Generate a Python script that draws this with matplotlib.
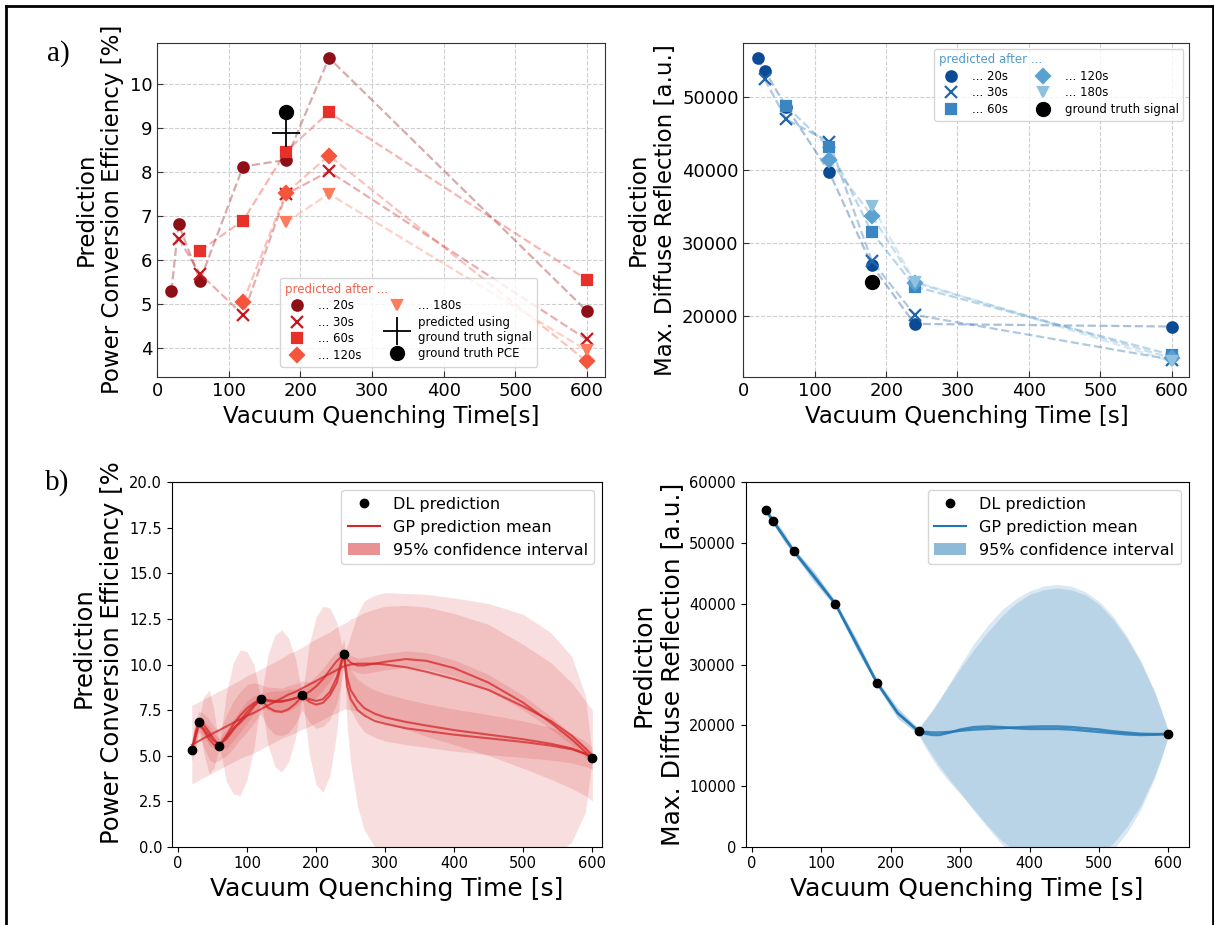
import matplotlib
matplotlib.use("Agg")
import matplotlib.pyplot as plt
from matplotlib.lines import Line2D
from matplotlib.patches import Patch
from matplotlib.transforms import Bbox

# ---------------- a) DL predictions after different measurement times ----------------
# power conversion efficiency [%]
pce_t20 = [20, 30, 60, 120, 180, 240, 600]
pce_20 = [5.30, 6.83, 5.54, 8.13, 8.28, 10.60, 4.85]
pce_t30 = [30, 60, 120, 180, 240, 600]
pce_30 = [6.49, 5.69, 4.76, 7.50, 8.02, 4.20]
pce_t60 = [60, 120, 180, 240, 600]
pce_60 = [6.22, 6.90, 8.47, 9.36, 5.56]
pce_t120 = [120, 180, 240, 600]
pce_120 = [5.05, 7.53, 8.38, 3.70]
pce_t180 = [180, 240, 600]
pce_180 = [6.86, 7.51, 3.95]
pce_gt_time = 180
pce_from_gt_signal = 8.89
pce_gt = 9.38

# max. diffuse reflection [a.u.]
dr_t20 = [20, 30, 60, 120, 180, 240, 600]
dr_20 = [55440, 53610, 48700, 39800, 26950, 18900, 18540]
dr_t30 = [30, 60, 120, 180, 240, 600]
dr_30 = [52470, 46980, 43920, 27550, 20140, 14000]
dr_t60 = [60, 120, 180, 240, 600]
dr_60 = [48810, 43140, 31480, 24030, 14650]
dr_t120 = [120, 180, 240, 600]
dr_120 = [41400, 33770, 24570, 14200]
dr_t180 = [180, 240, 600]
dr_180 = [35140, 24710, 13740]
dr_gt = 24620

series_labels = ["... 20s", "... 30s", "... 60s", "... 120s", "... 180s"]
series_markers = ["o", "x", "s", "D", "v"]
reds = ["#8e1016", "#c8161d", "#e8302a", "#f5553c", "#fb7d5d"]
blues = ["#0b4a95", "#1f66ad", "#3a86c2", "#5aa1d0", "#8fc1de"]

# ---------------- b) GP regressions on the 20s DL prediction ----------------
dl_t = [20, 30, 60, 120, 180, 240, 600]
dl_pce = [5.30, 6.85, 5.55, 8.10, 8.30, 10.60, 4.85]
dl_dr = [55400, 53700, 48700, 40000, 27000, 19000, 18600]

gp_x = [20, 25, 30, 37, 45, 52, 60, 70, 80, 90, 100, 110, 120, 130, 140, 150, 160, 170, 180,
        190, 200, 210, 220, 230, 240, 245, 250, 260, 270, 285, 300, 330, 360, 400, 450, 500,
        540, 570, 590, 600]
# short length scale: lens shaped intervals, huge interval after 240 s
pce_mean_s = [5.30, 6.25, 6.85, 6.70, 6.30, 5.90, 5.55, 6.00, 6.50, 6.80, 7.20, 7.70, 8.10, 8.05,
              8.00, 8.00, 8.05, 8.15, 8.30, 8.10, 8.00, 8.10, 8.50, 9.30, 10.60, 8.80, 8.10, 7.50,
              7.20, 6.90, 6.75, 6.50, 6.35, 6.15, 5.95, 5.75, 5.55, 5.35, 5.10, 4.85]
pce_ci_s = [0.0, 0.8, 0.0, 1.5, 2.3, 1.6, 0.0, 2.4, 3.6, 4.0, 3.5, 2.3, 0.0, 2.4, 3.6, 3.9, 3.4,
            2.2, 0.0, 3.0, 4.6, 5.1, 4.6, 3.0, 0.0, 2.2, 3.5, 5.3, 6.3, 6.9, 7.2, 7.4, 7.5, 7.5,
            7.4, 7.0, 6.2, 5.1, 3.2, 0.0]
# fit following the points closely, low branch after 240 s
pce_mean_d = [5.30, 6.00, 6.85, 6.40, 5.90, 5.60, 5.55, 6.10, 6.70, 7.20, 7.60, 7.90, 8.10, 7.65,
              7.45, 7.40, 7.55, 7.85, 8.30, 7.95, 7.80, 7.90, 8.30, 9.00, 10.60, 9.30, 8.60, 8.00,
              7.60, 7.30, 7.10, 6.85, 6.65, 6.40, 6.15, 5.90, 5.65, 5.40, 5.10, 4.85]
pce_ci_d = [0.6, 0.8, 0.6, 0.9, 1.1, 1.0, 0.8, 1.1, 1.3, 1.3, 1.3, 1.1, 0.8, 1.1, 1.3, 1.3, 1.3,
            1.1, 0.8, 1.1, 1.3, 1.3, 1.3, 1.1, 0.8, 0.9, 1.1, 1.2, 1.3, 1.3, 1.3, 1.25, 1.2, 1.15,
            1.1, 1.0, 0.9, 0.8, 0.7, 0.6]
# medium length scale, upper branch after 240 s
pce_mean_m = [5.30, 6.00, 6.60, 6.50, 6.10, 5.80, 5.65, 5.90, 6.40, 6.90, 7.40, 7.80, 8.05, 8.00,
              7.95, 7.95, 8.05, 8.15, 8.30, 8.50, 8.80, 9.20, 9.70, 10.20, 10.55, 10.30, 10.10,
              9.95, 9.95, 10.05, 10.15, 10.30, 10.20, 9.80, 9.00, 7.90, 6.80, 5.90, 5.20, 4.85]
pce_ci_m = [0.3, 0.4, 0.3, 0.4, 0.5, 0.4, 0.3, 0.5, 0.6, 0.6, 0.6, 0.5, 0.3, 0.5, 0.6, 0.6, 0.6,
            0.5, 0.3, 0.5, 0.6, 0.6, 0.6, 0.5, 0.3, 0.35, 0.4, 0.4, 0.45, 0.45, 0.45, 0.45, 0.45,
            0.45, 0.45, 0.4, 0.35, 0.3, 0.3, 0.3]
# long length scale, broad interval
pce_mean_l = [5.60, 5.70, 5.80, 5.95, 6.10, 6.25, 6.40, 6.60, 6.80, 7.00, 7.20, 7.35, 7.55, 7.75,
              7.95, 8.15, 8.35, 8.50, 8.70, 8.90, 9.10, 9.30, 9.50, 9.70, 9.90, 9.95, 10.00,
              10.05, 10.05, 10.05, 10.00, 9.85, 9.60, 9.20, 8.60, 7.70, 6.90, 6.10, 5.40, 5.00]
pce_ci_l = [2.15, 2.15, 2.15, 2.15, 2.15, 2.15, 2.15, 2.15, 2.15, 2.15, 2.2, 2.2, 2.2, 2.2,
            2.2, 2.2, 2.25, 2.25, 2.25, 2.3, 2.3, 2.3, 2.3, 2.35, 2.35, 2.4, 2.5, 2.6, 2.8,
            3.0, 3.2, 3.4, 3.55, 3.6, 3.6, 3.4, 3.2, 2.9, 2.6, 2.5]

gp2_x = [20, 30, 45, 60, 90, 120, 150, 180, 210, 240, 250, 260, 270, 285, 300, 320, 340, 360,
         380, 400, 420, 440, 460, 480, 500, 520, 540, 560, 580, 590, 600]
dr_mean_1 = [55400, 53700, 51200, 48700, 44300, 40000, 33400, 27000, 22000, 19000, 18600, 18400,
             18400, 18800, 19300, 19700, 19800, 19700, 19500, 19400, 19400, 19400, 19300, 19100,
             18900, 18700, 18500, 18400, 18450, 18500, 18600]
dr_ci_1 = [500, 500, 800, 500, 900, 500, 900, 500, 900, 500, 2300, 4000, 5700, 8200, 10600, 13800,
           16700, 19300, 21300, 22700, 23500, 23800, 23600, 22900, 21500, 19300, 16200, 12300,
           7200, 4000, 400]
dr_mean_2 = [55400, 53700, 51200, 48700, 44500, 40000, 33600, 27000, 22000, 19000, 18900, 18800,
             18800, 18900, 19100, 19300, 19400, 19500, 19650, 19750, 19800, 19800, 19700, 19500,
             19300, 19000, 18800, 18600, 18550, 18550, 18600]
dr_ci_2 = [450, 450, 700, 450, 800, 450, 800, 450, 800, 450, 2200, 3800, 5500, 7900, 10200, 13200,
           16000, 18500, 20400, 21800, 22500, 22800, 22600, 22000, 20600, 18500, 15500, 11800,
           6900, 3800, 400]

fig = plt.figure(figsize=(12.14, 9.25), dpi=100)

ax1 = fig.add_axes([0.1294, 0.5928, 0.3693, 0.3611])
ax2 = fig.add_axes([0.6124, 0.5928, 0.3673, 0.3611])
ax3 = fig.add_axes([0.1415, 0.0846, 0.3544, 0.3940])
ax4 = fig.add_axes([0.6143, 0.0846, 0.3647, 0.3940])

# 1) top left: PCE predictions
pce_t = [pce_t20, pce_t30, pce_t60, pce_t120, pce_t180]
pce_v = [pce_20, pce_30, pce_60, pce_120, pce_180]
for t, v, c in zip(pce_t, pce_v, reds):
    ax1.plot(t, v, "--", color=c, alpha=0.35, lw=1.6)
for t, v, c, m, lab in zip(pce_t, pce_v, reds, series_markers, series_labels):
    ax1.plot(t, v, m, ls="none", color=c, ms=7.5 if m != "x" else 8, mew=1.6, label=lab)
ax1.plot([pce_gt_time], [pce_from_gt_signal], "+", color="black", ms=20, mew=1.3,
         ls="none", label="predicted using\nground truth signal")
ax1.plot([pce_gt_time], [pce_gt], "o", color="black", ms=10, ls="none", label="ground truth PCE")
ax1.set_xlim(0, 626)
ax1.set_ylabel("Prediction\nPower Conversion Efficiency [%]", fontsize=16.5)
ax1.set_xlabel("Vacuum Quenching Time[s]", fontsize=16.5)
leg = ax1.legend(ncol=2, fontsize=8.5, title="predicted after ...", title_fontsize=8.5,
                 alignment="left", loc="lower left", bbox_to_anchor=(0.262, 0.012),
                 labelspacing=0.3, borderpad=0.4)
leg.get_title().set_color("#f4614a")

# 2) top right: diffuse reflection predictions
dr_t = [dr_t20, dr_t30, dr_t60, dr_t120, dr_t180]
dr_v = [dr_20, dr_30, dr_60, dr_120, dr_180]
for t, v, c in zip(dr_t, dr_v, blues):
    ax2.plot(t, v, "--", color=c, alpha=0.35, lw=1.6)
for t, v, c, m, lab in zip(dr_t, dr_v, blues, series_markers, series_labels):
    ax2.plot(t, v, m, ls="none", color=c, ms=7.5 if m != "x" else 8, mew=1.6, label=lab)
ax2.plot([pce_gt_time], [dr_gt], "o", color="black", ms=10, ls="none", label="ground truth signal")
ax2.set_xlim(0, 625)
ax2.set_ylabel("Prediction\nMax. Diffuse Reflection [a.u.]", fontsize=16.5)
ax2.set_xlabel("Vacuum Quenching Time [s]", fontsize=16.5)
leg = ax2.legend(ncol=2, fontsize=8.5, title="predicted after ...", title_fontsize=8.5,
                 alignment="left", loc="upper right", labelspacing=0.3, borderpad=0.4)
leg.get_title().set_color("#4f9bcc")

for ax in (ax1, ax2):
    ax.grid(True, ls="--", color="#cfcfcf", lw=0.8)
    ax.set_axisbelow(True)
    ax.tick_params(direction="in", labelsize=13, length=4, color="#333333")
    for sp in ax.spines.values():
        sp.set_color("#333333")

# 3) bottom left: GP on PCE
for mean, ci in [(pce_mean_l, pce_ci_l), (pce_mean_s, pce_ci_s),
                 (pce_mean_d, pce_ci_d), (pce_mean_m, pce_ci_m)]:
    lo = [m - c for m, c in zip(mean, ci)]
    hi = [m + c for m, c in zip(mean, ci)]
    ax3.fill_between(gp_x, lo, hi, color="tab:red", alpha=0.15, lw=0)
    ax3.plot(gp_x, mean, color="tab:red", alpha=0.75, lw=1.5)
ax3.plot(dl_t, dl_pce, "o", color="black", ms=6)
ax3.set_xlim(-9, 614)
ax3.set_ylim(0, 20)
ax3.set_xlabel("Vacuum Quenching Time [s]", fontsize=18)
ax3.set_ylabel("Prediction\nPower Conversion Efficiency [%]", fontsize=17.5, y=0.545)
ax3.tick_params(labelsize=10.5)
ax3.legend(handles=[Line2D([], [], marker="o", ls="none", color="black", ms=6),
                    Line2D([], [], color="tab:red", lw=1.5),
                    Patch(facecolor="tab:red", alpha=0.5)],
           labels=["DL prediction", "GP prediction mean", "95% confidence interval"],
           loc="upper right", fontsize=11.5)

# 4) bottom right: GP on diffuse reflection
for mean, ci in [(dr_mean_1, dr_ci_1), (dr_mean_2, dr_ci_2)]:
    lo = [m - c for m, c in zip(mean, ci)]
    hi = [m + c for m, c in zip(mean, ci)]
    ax4.fill_between(gp2_x, lo, hi, color="tab:blue", alpha=0.17, lw=0)
    ax4.plot(gp2_x, mean, color="tab:blue", alpha=0.8, lw=1.8)
ax4.plot(dl_t, dl_dr, "o", color="black", ms=6)
ax4.set_ylim(0, 60000)
ax4.set_xlabel("Vacuum Quenching Time [s]", fontsize=18)
ax4.set_ylabel("Prediction\nMax. Diffuse Reflection [a.u.]", fontsize=18)
ax4.tick_params(labelsize=10.5)
ax4.legend(handles=[Line2D([], [], marker="o", ls="none", color="black", ms=6),
                    Line2D([], [], color="tab:blue", lw=1.5),
                    Patch(facecolor="tab:blue", alpha=0.5)],
           labels=["DL prediction", "GP prediction mean", "95% confidence interval"],
           loc="upper right", fontsize=11.5)

# the pasted sub-figure cuts the long y label of b)
lab = ax3.yaxis.label
lab.set_clip_on(True)
lab.set_clip_box(Bbox.from_extents(0, 0, 1214, 925 - 463))

# panel letters and outer frame
fig.text(47 / 1214, 1 - 54 / 925, "a)", fontsize=21, family="Liberation Serif", va="center")
fig.text(45 / 1214, 1 - 483 / 925, "b)", fontsize=21, family="Liberation Serif", va="center")
for xs, ys in [([6 / 1214, 6 / 1214], [0, 1 - 6 / 925]),
               ([6 / 1214, 1], [1 - 6 / 925, 1 - 6 / 925]),
               ([1212.5 / 1214, 1212.5 / 1214], [0, 1 - 6 / 925])]:
    fig.add_artist(Line2D(xs, ys, transform=fig.transFigure, color="black", lw=2))

fig.savefig("out.png", dpi=100)
